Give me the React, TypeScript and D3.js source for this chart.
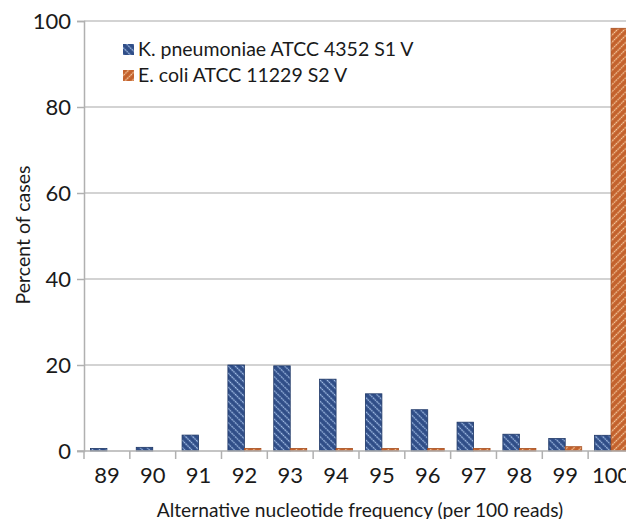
import React, { useEffect, useRef } from 'react';
import * as d3 from 'd3';

const categories = ['89', '90', '91', '92', '93', '94', '95', '96', '97', '98', '99', '100'];
const kpneumoniae = [0.6, 0.85, 3.7, 20, 19.8, 16.7, 13.3, 9.6, 6.7, 3.9, 2.9, 3.65];
const ecoli = [0, 0, 0, 0.6, 0.6, 0.6, 0.6, 0.6, 0.6, 0.6, 1.0, 98.3];
const seriesNames = ['K. pneumoniae ATCC 4352 S1 V', 'E. coli ATCC 11229 S2 V'];
const yTicks = [0, 20, 40, 60, 80, 100];

const W = 626;
const H = 519;

const App = () => {
  const svgRef = useRef<SVGSVGElement>(null);

  useEffect(() => {
    const svg = d3.select(svgRef.current);
    svg.selectAll('*').remove();
    const font = 'Lato, "Open Sans", sans-serif';

    const left = 84;
    const top = 21;
    const bottom = 451;
    const step = 45.83;

    // patterns
    const defs = svg.append('defs');
    const pats = [
      { id: 'pBlue', fill: '#2f4d87', stripe: '#a8c3ea', rot: -45 },
      { id: 'pOrange', fill: '#c3612c', stripe: '#f6caa0', rot: 45 },
    ];
    pats.forEach(p => {
      const pat = defs.append('pattern')
        .attr('id', p.id)
        .attr('patternUnits', 'userSpaceOnUse')
        .attr('width', 5)
        .attr('height', 5)
        .attr('patternTransform', `rotate(${p.rot})`);
      pat.append('rect').attr('width', 5).attr('height', 5).attr('fill', p.fill);
      pat.append('line')
        .attr('x1', 2.5).attr('y1', 0).attr('x2', 2.5).attr('y2', 5)
        .attr('stroke', p.stripe)
        .attr('stroke-width', 1.3)
        .attr('stroke-dasharray', '1.8,0.7');
    });

    const x0 = d3.scaleBand()
      .domain(categories)
      .range([left, left + step * categories.length])
      .paddingInner(0.28)
      .paddingOuter(0.14);

    const x1 = d3.scaleBand()
      .domain(['a', 'b'])
      .range([0, x0.bandwidth()]);

    const y = d3.scaleLinear().domain([0, 100]).range([bottom, top]);

    // grid
    svg.append('g')
      .selectAll('line')
      .data(yTicks.filter(d => d > 0))
      .join('line')
      .attr('x1', left)
      .attr('x2', W)
      .attr('y1', d => y(d))
      .attr('y2', d => y(d))
      .attr('stroke', '#c4c4c4')
      .attr('stroke-width', 1.3);

    // bars
    const rows = categories.map((c, i) => ({ c, vals: [kpneumoniae[i], ecoli[i]] }));
    const g = svg.append('g');
    rows.forEach(r => {
      r.vals.forEach((v, j) => {
        if (v <= 0) return;
        g.append('rect')
          .attr('x', (x0(r.c) as number) + (x1(j === 0 ? 'a' : 'b') as number))
          .attr('y', y(v))
          .attr('width', x1.bandwidth())
          .attr('height', bottom - y(v))
          .attr('fill', `url(#${j === 0 ? 'pBlue' : 'pOrange'})`)
          .attr('stroke', j === 0 ? '#1e3766' : '#a64f20')
          .attr('stroke-width', 0.8);
      });
    });

    // y axis
    const yAxis = svg.append('g')
      .attr('transform', `translate(${left},0)`)
      .call(d3.axisLeft(y).tickValues(yTicks).tickSize(7).tickPadding(6));
    yAxis.select('.domain').attr('stroke', '#b0b0b0').attr('stroke-width', 1.5);
    yAxis.selectAll('.tick line').attr('stroke', '#b0b0b0').attr('stroke-width', 1.5);
    yAxis.selectAll('.tick text')
      .attr('font-family', font)
      .attr('font-size', 22)
      .attr('fill', '#1a1a1a');

    // x axis
    const xAxis = svg.append('g')
      .attr('transform', `translate(0,${bottom})`)
      .call(d3.axisBottom(x0).tickSize(0).tickPadding(16));
    xAxis.select('.domain').remove();
    xAxis.append('line')
      .attr('x1', left - 7).attr('x2', W)
      .attr('stroke', '#b0b0b0').attr('stroke-width', 1.5);
    xAxis.selectAll('.sep')
      .data(categories)
      .join('line')
      .attr('class', 'sep')
      .attr('x1', (d, i) => left + step * i)
      .attr('x2', (d, i) => left + step * i)
      .attr('y1', 0)
      .attr('y2', 8)
      .attr('stroke', '#b0b0b0')
      .attr('stroke-width', 1.5);
    xAxis.selectAll('.tick text')
      .attr('font-family', font)
      .attr('font-size', 22)
      .attr('fill', '#1a1a1a');

    // axis titles
    svg.append('text')
      .attr('x', 360)
      .attr('y', 517)
      .attr('text-anchor', 'middle')
      .attr('font-family', font)
      .attr('font-size', 19.2)
      .attr('fill', '#1a1a1a')
      .text('Alternative nucleotide frequency (per 100 reads)');

    svg.append('text')
      .attr('transform', 'translate(30,235) rotate(-90)')
      .attr('text-anchor', 'middle')
      .attr('font-family', font)
      .attr('font-size', 19.5)
      .attr('fill', '#1a1a1a')
      .text('Percent of cases');

    // legend
    const leg = svg.append('g').attr('transform', 'translate(123,44)');
    seriesNames.forEach((name, i) => {
      leg.append('rect')
        .attr('x', 0)
        .attr('y', i * 26)
        .attr('width', 11)
        .attr('height', 11)
        .attr('fill', `url(#${i === 0 ? 'pBlue' : 'pOrange'})`);
      leg.append('text')
        .attr('x', 15)
        .attr('y', i * 26 + 12)
        .attr('font-family', font)
        .attr('font-size', 19.5)
        .attr('fill', '#1a1a1a')
        .text(name);
    });
  }, []);

  return (
    <svg
      ref={svgRef}
      width={W}
      height={H}
      style={{ position: 'absolute', left: 0, top: 0, background: '#fff', overflow: 'hidden' }}
    />
  );
};

export default App;
